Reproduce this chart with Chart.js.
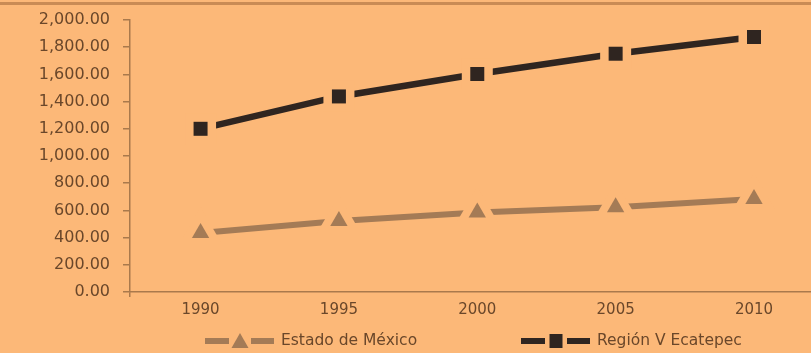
<!DOCTYPE html>
<html>
<head>
<meta charset="utf-8">
<script src="https://cdn.jsdelivr.net/npm/chart.js@4.4.1/dist/chart.umd.min.js"></script>
<style>
  html, body { margin: 0; padding: 0; background: #fcb878; }
  #wrap { width: 811px; height: 353px; position: relative; }
</style>
</head>
<body>
<div id="wrap"><canvas id="chart" width="811" height="353"></canvas></div>
<script>
// Population density series, 1990-2010
const years = [1990, 1995, 2000, 2005, 2010];
const estadoMexico = [433, 522, 585, 624, 684];
const regionEcatepec = [1200, 1438, 1603, 1752, 1875];
const seriesNames = ['Estado de México', 'Región V Ecatepec'];
const yTicks = [0, 200, 400, 600, 800, 1000, 1200, 1400, 1600, 1800, 2000];

const BG = '#fcb878';
const AXIS = '#a9794c';
const TEXT = '#6a472a';
const LIGHT = '#a47b56';
const DARK = '#2f2520';
const FONT = "'DejaVu Sans', sans-serif";

const X_MIN = 1987.45, X_MAX = 2012.06;

const fmt = new Intl.NumberFormat('en-US', { minimumFractionDigits: 2, maximumFractionDigits: 2 });

// Background and the thin rule across the top
const backdrop = {
  id: 'backdrop',
  beforeDraw(chart) {
    const ctx = chart.ctx;
    ctx.save();
    ctx.fillStyle = BG;
    ctx.fillRect(0, 0, chart.width, chart.height);
    ctx.fillStyle = '#c98b55';
    ctx.fillRect(0, 2, chart.width, 3);
    ctx.restore();
  }
};

// Clear a halo of background round each marker, then draw the marker
// again on top, so the line stops short of it
const markerGaps = {
  id: 'markerGaps',
  afterDatasetsDraw(chart) {
    const ctx = chart.ctx;
    chart.getSortedVisibleDatasetMetas().forEach(meta => {
      meta.data.forEach(pt => {
        const style = pt.options.pointStyle;
        ctx.save();
        ctx.fillStyle = BG;
        ctx.beginPath();
        if (style === 'triangle') {
          const R = 26;
          for (let k = 0; k < 3; k++) {
            const a = k * 2 * Math.PI / 3;
            const px = pt.x + Math.sin(a) * R;
            const py = pt.y - Math.cos(a) * R;
            if (k === 0) ctx.moveTo(px, py); else ctx.lineTo(px, py);
          }
          ctx.closePath();
        } else {
          ctx.rect(pt.x - 15.5, pt.y - 15.5, 31, 31);
        }
        ctx.fill();
        ctx.restore();
        pt.draw(ctx, chart.chartArea);
      });
    });
  }
};

// Legend: dash, marker, dash, then the series name
const lineLegend = {
  id: 'lineLegend',
  afterDraw(chart) {
    const ctx = chart.ctx;
    const cy = 341;
    const items = [
      { x: 205, color: LIGHT, marker: 'triangle', label: seriesNames[0] },
      { x: 521, color: DARK, marker: 'rect', label: seriesNames[1] }
    ];
    ctx.save();
    items.forEach(it => {
      ctx.fillStyle = it.color;
      ctx.fillRect(it.x, cy - 3, 24, 6);
      ctx.fillRect(it.x + 46, cy - 3, 23, 6);
      const mx = it.x + 35;
      ctx.beginPath();
      if (it.marker === 'triangle') {
        ctx.moveTo(mx, cy - 8);
        ctx.lineTo(mx + 8.5, cy + 7);
        ctx.lineTo(mx - 8.5, cy + 7);
        ctx.closePath();
      } else {
        ctx.rect(mx - 6.5, cy - 7, 13, 14);
      }
      ctx.fill();
      ctx.fillStyle = TEXT;
      ctx.font = '15.5px ' + FONT;
      ctx.textBaseline = 'middle';
      ctx.textAlign = 'left';
      ctx.fillText(it.label, it.x + 76, cy);
    });
    ctx.restore();
  }
};

const toPoints = vals => vals.map((v, i) => ({ x: years[i], y: v }));

new Chart(document.getElementById('chart'), {
  type: 'line',
  data: {
    datasets: [
      {
        label: seriesNames[0],
        data: toPoints(estadoMexico),
        borderColor: LIGHT,
        borderWidth: 6,
        pointStyle: 'triangle',
        pointRadius: 10,
        pointHoverRadius: 10,
        pointBackgroundColor: LIGHT,
        pointBorderWidth: 0,
        clip: false
      },
      {
        label: seriesNames[1],
        data: toPoints(regionEcatepec),
        borderColor: DARK,
        borderWidth: 6.5,
        pointStyle: 'rect',
        pointRadius: 9.9,
        pointHoverRadius: 9.9,
        pointBackgroundColor: DARK,
        pointBorderWidth: 0,
        clip: false
      }
    ]
  },
  options: {
    responsive: false,
    animation: false,
    devicePixelRatio: 1,
    events: [],
    layout: { autoPadding: false, padding: { top: 20, right: 0, bottom: 0, left: 0 } },
    plugins: { legend: { display: false }, tooltip: { enabled: false } },
    scales: {
      x: {
        type: 'linear',
        min: X_MIN,
        max: X_MAX,
        afterBuildTicks(scale) {
          scale.ticks = [X_MIN].concat(years).map(v => ({ value: v }));
        },
        afterFit(scale) {
          scale.height = 61;
          scale.paddingLeft = 0;
          scale.paddingRight = 0;
        },
        border: { display: true, color: AXIS, width: 1.5 },
        grid: {
          display: true,
          drawOnChartArea: false,
          drawTicks: true,
          tickLength: 5,
          lineWidth: 1.5,
          color: ctx => (ctx.tick && ctx.tick.value === X_MIN) ? AXIS : 'rgba(0,0,0,0)'
        },
        ticks: {
          autoSkip: false,
          maxRotation: 0,
          padding: 4,
          color: TEXT,
          font: { family: FONT, size: 15 },
          callback: v => (years.includes(v) ? String(v) : '')
        }
      },
      y: {
        min: 0,
        max: 2000,
        afterBuildTicks(scale) {
          scale.ticks = yTicks.map(v => ({ value: v }));
        },
        afterFit(scale) {
          scale.width = 130;
          scale.paddingTop = 0;
          scale.paddingBottom = 0;
        },
        border: { display: true, color: AXIS, width: 1.5 },
        grid: {
          display: true,
          drawOnChartArea: false,
          drawTicks: true,
          tickLength: 7,
          lineWidth: 1.5,
          color: AXIS
        },
        ticks: {
          padding: 13,
          color: TEXT,
          font: { family: FONT, size: 16 },
          callback: v => fmt.format(v)
        }
      }
    }
  },
  plugins: [backdrop, markerGaps, lineLegend]
});
</script>
</body>
</html>
